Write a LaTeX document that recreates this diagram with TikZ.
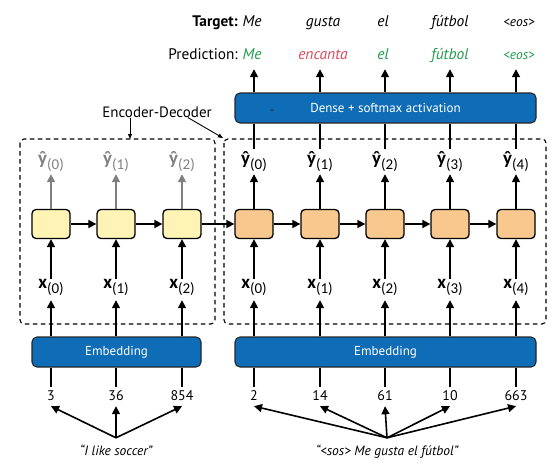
\documentclass[tikz,border=0pt]{standalone}
\usepackage{fontspec}
\setmainfont{PT Sans}
\newfontfamily\labfont{Carlito}
\usetikzlibrary{arrows.meta}
\definecolor{embblue}{HTML}{0F6DB8}
\definecolor{cellyel}{HTML}{FFF3B5}
\definecolor{cellor}{HTML}{F9C88E}
\definecolor{predgreen}{HTML}{1E9B4B}
\definecolor{predred}{HTML}{D9475A}
\definecolor{encgray}{HTML}{7F7F7F}
\newcommand{\subx}[1]{\raisebox{-0.36em}{\fontsize{15}{15}\selectfont(#1)}}
\newcommand{\xl}[1]{{\labfont{\fontsize{19}{19}\selectfont\bfseries x}\subx{#1}}}
\newcommand{\yl}[1]{{\labfont{\fontsize{19}{19}\selectfont\bfseries ŷ}\subx{#1}}}
\begin{document}
\begin{tikzpicture}[x=1pt,y=-1pt,
  cell/.style={draw=black, line width=1.3pt, rounded corners=4pt, minimum width=38pt, minimum height=29pt, inner sep=0pt},
  bluebox/.style={draw=black!85, fill=embblue, line width=1.1pt, rounded corners=5pt, text=white, inner sep=0pt, minimum height=30pt, font=\fontsize{13}{13}\selectfont},
  arr/.style={-{Triangle[length=8pt,width=8pt]}, line width=1.6pt},
  plain/.style={line width=1.6pt},
  thinarr/.style={-{Triangle[length=5pt,width=4pt]}, line width=0.9pt},
  lab/.style={inner sep=0pt, anchor=base, font=\fontsize{14.5}{15}\selectfont},
  xlab/.style={lab, text height=9pt, text depth=12pt},
  ylab/.style={lab, text height=15pt, text depth=10pt},
  numlab/.style={lab, text height=13pt, text depth=6pt, font=\fontsize{14}{14}\selectfont},
  wordlab/.style={lab, text height=10pt, text depth=10pt, font=\fontsize{15.5}{15.5}\selectfont\itshape},
  eoslab/.style={wordlab, font=\fontsize{13.5}{13.5}\selectfont\itshape},
  dashbox/.style={draw=black, line width=1.1pt, dash pattern=on 4.5pt off 3.5pt, rounded corners=4pt}
]
\useasboundingbox (0,0) rectangle (559,471);

% dashed boxes
\draw[dashbox] (20,139) rectangle (215,324);
\draw[dashbox] (224,139) rectangle (546,324);

% encoder
\foreach \i/\x in {0/51,1/116,2/182}{
  \node[cell, fill=cellyel] (e\i) at (\x,224) {};
  \node[xlab] (xe\i) at (\x,288) {\xl{\i}};
  \node[ylab, text=encgray] (ye\i) at (\x,164) {\yl{\i}};
}
% decoder
\foreach \i/\x in {0/254,1/320,2/385,3/450,4/516}{
  \node[cell, fill=cellor] (d\i) at (\x,224) {};
  \node[xlab] (xd\i) at (\x,288) {\xl{\i}};
  \node[ylab] (yd\i) at (\x,164) {\yl{\i}};
}

% numbers
\node[numlab] (n0) at (51,400) {3};
\node[numlab] (n1) at (116,400) {36};
\node[numlab] (n2) at (182,400) {854};
\node[numlab] (m0) at (254,400) {2};
\node[numlab] (m1) at (320,400) {14};
\node[numlab] (m2) at (385,400) {61};
\node[numlab] (m3) at (450,400) {10};
\node[numlab] (m4) at (516,400) {663};

% boxes
\node[bluebox, minimum width=169pt] (embE) at (116.5,352) {Embedding};
\node[bluebox, minimum width=301pt] (embD) at (385.5,352) {Embedding};
\node[bluebox, minimum width=301pt] (dense) at (385.5,108) {Dense + softmax activation};
\fill[black] (272,110) circle (0.8pt);

% sentences
\node[lab, text height=17pt, font=\fontsize{13.5}{13.5}\selectfont\itshape] (sE) at (116,455) {“I like soccer”};
\node[lab, text height=17pt, font=\fontsize{13.5}{13.5}\selectfont\itshape] (sD) at (387,455) {“\textless{}sos\textgreater{} Me gusta el fútbol”};

% target / prediction
\node[lab, anchor=base east, font=\fontsize{15.3}{15.3}\selectfont\bfseries] (tgt) at (238,26) {Target:};
\node[lab, anchor=base east, font=\fontsize{15.3}{15.3}\selectfont] (prd) at (238,59) {Prediction:};
\node[wordlab] (t0) at (252,26) {Me};
\node[wordlab] (t1) at (323,26) {gusta};
\node[wordlab] (t2) at (383,26) {el};
\node[wordlab] (t3) at (450,26) {fútbol};
\node[eoslab] (t4) at (519,26) {\textless{}eos\textgreater{}};
\node[wordlab, text=predgreen] (p0) at (252,59) {Me};
\node[wordlab, text=predred] (p1) at (323,59) {encanta};
\node[wordlab, text=predgreen] (p2) at (383,59) {el};
\node[wordlab, text=predgreen] (p3) at (450,59) {fútbol};
\node[eoslab, text=predgreen] (p4) at (519,59) {\textless{}eos\textgreater{}};

% Encoder-Decoder label
\node[lab, anchor=center, font=\fontsize{15}{15}\selectfont] (ed) at (157,112) {Encoder-Decoder};
\coordinate (encTop) at (130,139);
\coordinate (decTop) at (223,138);
\draw[thinarr] (ed.south -| encTop) -- (encTop);
\draw[thinarr] ([xshift=31pt]ed.south) -- (decTop);

% recurrent arrows
\draw[arr] (e0) -- (e1);
\draw[arr] (e1) -- (e2);
\draw[arr] (e2) -- (d0);
\draw[arr] (d0) -- (d1);
\draw[arr] (d1) -- (d2);
\draw[arr] (d2) -- (d3);
\draw[arr] (d3) -- (d4);

% vertical connections encoder
\foreach \i in {0,1,2}{
  \draw[arr] (xe\i.north) -- (e\i.south);
  \draw[arr, draw=encgray, fill=encgray] (e\i.north) -- (ye\i.south);
  \draw[arr] (embE.north -| xe\i) -- (xe\i.south);
  \draw[plain] (embE.south -| n\i) -- (n\i.north);
  \draw[arr] (sE.north) -- (n\i.south);
}
% decoder
\foreach \i in {0,1,2,3,4}{
  \draw[arr] (xd\i.north) -- (d\i.south);
  \draw[arr] (d\i.north) -- (yd\i.south);
  \draw[plain] (yd\i.north) -- (dense.south -| yd\i);
  \draw[arr] (dense.north -| yd\i) -- (p\i.south -| yd\i);
  \draw[arr] (embD.north -| xd\i) -- (xd\i.south);
  \draw[plain] (embD.south -| m\i) -- (m\i.north);
  \draw[arr] (sD.north) -- (m\i.south);
}
\end{tikzpicture}
\end{document}
